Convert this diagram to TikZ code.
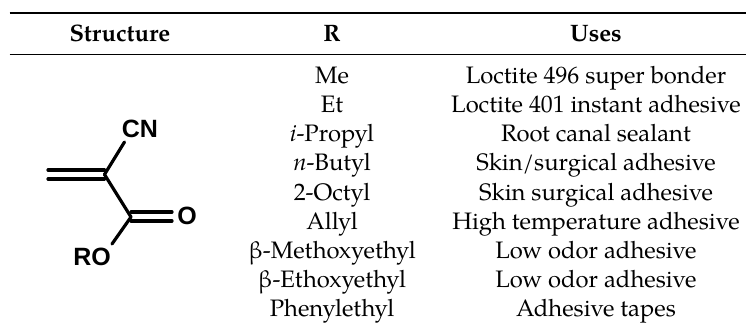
\documentclass[tikz,border=0pt]{standalone}
\usepackage{fontspec}
\setmainfont{TeX Gyre Pagella}
\newfontfamily\atomfont{Liberation Sans}
\begin{document}
\begin{tikzpicture}[x=1pt,y=-1pt,
 toprule/.style={line width=1.7pt,black},
 midrule/.style={line width=1pt,black},
 hd/.style={font=\fontsize{23.8}{26}\selectfont\bfseries,anchor=base,inner sep=0pt},
 cell/.style={font=\fontsize{23.8}{26}\selectfont,anchor=base,inner sep=0pt},
 bond/.style={line width=3.2pt,line cap=round},
 atom/.style={font=\atomfont\bfseries\fontsize{25}{27}\selectfont,inner sep=0pt}]
\path[use as bounding box,fill=white] (0,0) rectangle (746,323);
\coordinate (l1a) at (9.5,13); \coordinate (l1b) at (746,13);
\coordinate (l2a) at (9.5,55); \coordinate (l2b) at (746,55);
\draw[toprule] (l1a) -- (l1b);
\draw[midrule] (l2a) -- (l2b);
\node[hd] (h1) at (120,42) {Structure};
\node[hd] (h2) at (332,42) {R};
\node[hd] (h3) at (596,42) {Uses};
\foreach \i/\y/\r/\u in {1/84/Me/Loctite 496 super bonder,2/113/Et/Loctite 401 instant adhesive,3/142/\textit{i}-Propyl/Root canal sealant,4/171/\textit{n}-Butyl/{Skin/surgical adhesive},5/200.5/2-Octyl/Skin surgical adhesive,6/229.5/Allyl/High temperature adhesive,7/258.5/β-Methoxyethyl/Low odor adhesive,8/287.5/β-Ethoxyethyl/Low odor adhesive,9/316.5/Phenylethyl/Adhesive tapes}{
 \node[cell] (r\i) at (332,\y) {\r};
 \node[cell] (u\i) at (596,\y) {\u};
}
\node[atom] (cn) at (140,129) {CN};
\node[atom] (o) at (187,216) {O};
\node[atom] (ro) at (92,257) {RO};
\coordinate (c) at (104.5,174.5);
\coordinate (cc) at (131,217);
\coordinate (cnend) at (124.5,142);
\coordinate (roend) at (112,244);
\coordinate (c1) at (104.5,170); \coordinate (c2) at (104.5,179);
\coordinate (ch1) at (48,170); \coordinate (ch2) at (48,179);
\coordinate (o1) at (131,212); \coordinate (o2) at (131,221);
\coordinate (oe1) at (172,212); \coordinate (oe2) at (172,221);
\draw[bond] (c1) -- (ch1);
\draw[bond] (c2) -- (ch2);
\draw[bond] (c) -- (cnend);
\draw[bond] (c) -- (cc);
\draw[bond] (o1) -- (oe1);
\draw[bond] (o2) -- (oe2);
\draw[bond] (cc) -- (roend);
\end{tikzpicture}
\end{document}
